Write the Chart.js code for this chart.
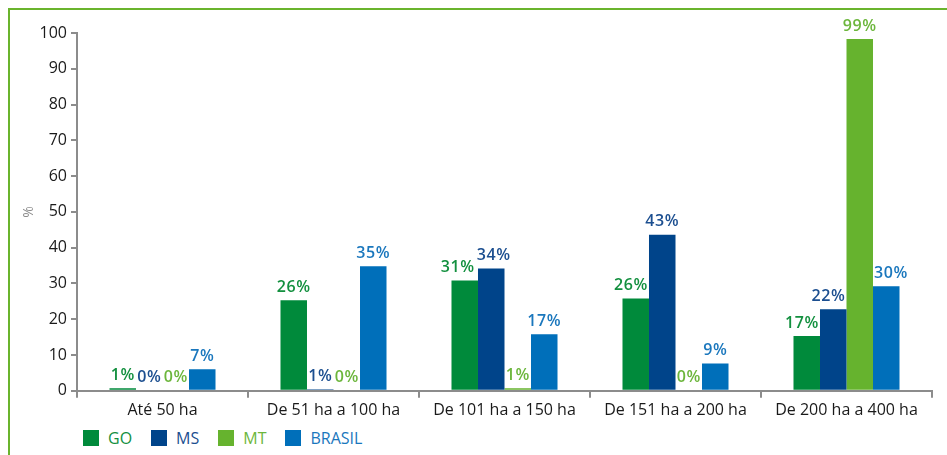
<!DOCTYPE html>
<html>
<head>
<meta charset="utf-8">
<script src="https://cdn.jsdelivr.net/npm/chart.js@4/dist/chart.umd.min.js"></script>
<style>
  body { margin: 0; background: #fff; font-family: "Open Sans", sans-serif; }
  #frame {
    position: absolute; left: 8px; top: 8px; width: 939px; height: 447px;
    border-left: 2px solid #6ab42d; border-top: 2px solid #6ab42d;
  }
  #wrap { position: absolute; left: 10px; top: 10px; width: 937px; height: 413px; }
  #legend { position: absolute; left: 83px; top: 427px; display: flex; font-size: 16px; }
  .item { display: flex; align-items: center; margin-right: 19px; }
  .box { width: 16px; height: 16px; margin-right: 9px; }
</style>
</head>
<body>
<div id="frame"></div>
<div id="wrap"><canvas id="chart"></canvas></div>
<div id="legend"></div>
<script>
// categories and series (bar heights, labels as printed)
var categories = ['Até 50 ha', 'De 51 ha a 100 ha', 'De 101 ha a 150 ha', 'De 151 ha a 200 ha', 'De 200 ha a 400 ha'];
var seriesNames = ['GO', 'MS', 'MT', 'BRASIL'];
var goValues = [0.7, 25.3, 30.8, 25.8, 15.3];
var msValues = [0, 0.4, 34.2, 43.6, 22.8];
var mtValues = [0, 0, 0.7, 0, 98.3];
var brasilValues = [6.0, 34.8, 15.8, 7.6, 29.2];
var goLabels = ['1%', '26%', '31%', '26%', '17%'];
var msLabels = ['0%', '1%', '34%', '43%', '22%'];
var mtLabels = ['0%', '0%', '1%', '0%', '99%'];
var brasilLabels = ['7%', '35%', '17%', '9%', '30%'];
var yTicks = [0, 10, 20, 30, 40, 50, 60, 70, 80, 90, 100];

var barColors = ['#008a3b', '#00448a', '#66b32e', '#006fba'];
var textColors = ['#13903f', '#1c4f90', '#6cb63c', '#1a77bd'];

var allValues = [goValues, msValues, mtValues, brasilValues];
var allLabels = [goLabels, msLabels, mtLabels, brasilLabels];

var datasets = seriesNames.map(function(name, i) {
  return {
    label: name,
    data: allValues[i],
    backgroundColor: barColors[i],
    pctLabels: allLabels[i],
    textColor: textColors[i],
    categoryPercentage: 0.62,
    barPercentage: 1.0
  };
});

// value labels above each bar, nudged sideways off taller neighbours
var barLabels = {
  id: 'barLabels',
  afterDatasetsDraw: function(chart) {
    var ctx = chart.ctx;
    var gap = 5, lineH = 16;
    var n = chart.data.datasets.length;
    ctx.save();
    ctx.font = '600 16px "Open Sans"';
    ctx.letterSpacing = '0.6px';
    ctx.textAlign = 'center';
    ctx.textBaseline = 'bottom';
    chart.data.labels.forEach(function(cat, j) {
      var bars = [], items = [];
      for (var i = 0; i < n; i++) bars.push(chart.getDatasetMeta(i).data[j]);
      for (var i = 0; i < n; i++) {
        var bar = bars[i];
        var text = chart.data.datasets[i].pctLabels[j];
        var w = ctx.measureText(text).width;
        var x = bar.x, yb = bar.y - gap;
        var right = bars[i + 1], left = bars[i - 1];
        if (right && right.y < yb) x = Math.min(x, right.x - right.width / 2 - w / 2 - 1);
        if (left && left.y < yb) x = Math.max(x, left.x + left.width / 2 + w / 2 + 1);
        items.push({ text: text, x: x, y: yb, w: w, color: chart.data.datasets[i].textColor });
      }
      for (var i = 0; i < items.length - 1; i++) {
        var a = items[i], b = items[i + 1];
        if (Math.abs(a.y - b.y) < lineH) {
          var overlap = (a.x + a.w / 2) - (b.x - b.w / 2) + 2;
          if (overlap > 0) { a.x -= overlap / 2; b.x += overlap / 2; }
        }
      }
      items.forEach(function(it) {
        ctx.fillStyle = it.color;
        ctx.fillText(it.text, it.x, it.y);
      });
    });
    ctx.restore();
  }
};

var ctx = document.getElementById('chart').getContext('2d');
var chart = new Chart(ctx, {
  type: 'bar',
  data: { labels: categories, datasets: datasets },
  options: {
    responsive: true,
    maintainAspectRatio: false,
    animation: false,
    layout: { padding: { top: 23, right: 15, bottom: 0, left: 0 } },
    plugins: {
      legend: { display: false },
      tooltip: { enabled: false }
    },
    scales: {
      x: {
        grid: { display: true, drawOnChartArea: false, offset: true, tickLength: 7, color: '#8c8c8c', lineWidth: 2 },
        border: { color: '#8c8c8c', width: 2 },
        ticks: { color: '#1a1a1a', font: { family: 'Open Sans', size: 16 }, padding: 3 }
      },
      y: {
        min: 0,
        max: 100,
        afterBuildTicks: function(scale) {
          scale.ticks = yTicks.map(function(v) { return { value: v }; });
        },
        afterFit: function(scale) { scale.width = 67; },
        grid: { display: true, drawOnChartArea: false, tickLength: 6, color: '#8c8c8c', lineWidth: 2 },
        border: { color: '#8c8c8c', width: 2 },
        ticks: { color: '#1a1a1a', font: { family: 'Open Sans', size: 16 }, padding: 4 },
        title: { display: true, text: '%', color: '#8c8c8c', font: { family: 'Open Sans', size: 14 }, padding: { top: 11, bottom: 0 } }
      }
    }
  },
  plugins: [barLabels]
});

// html legend
var legendHtml = '';
seriesNames.forEach(function(name, i) {
  legendHtml += '<div class="item"><div class="box" style="background:' + barColors[i] + '"></div>' +
    '<span style="color:' + textColors[i] + '">' + name + '</span></div>';
});
document.getElementById('legend').innerHTML = legendHtml;
</script>
</body>
</html>
